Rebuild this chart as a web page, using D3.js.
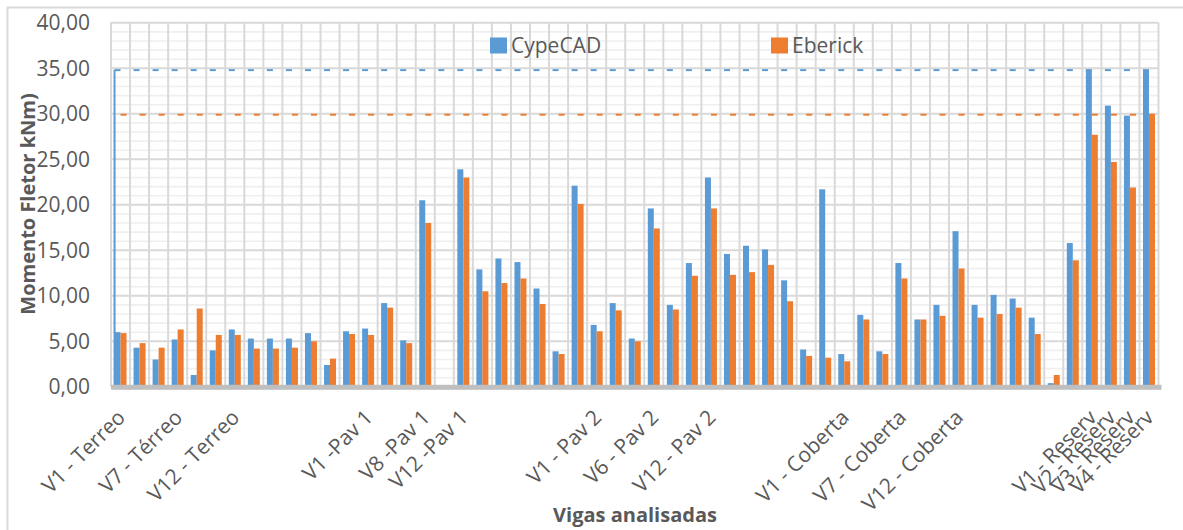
<!DOCTYPE html>
<html>
<head>
<meta charset="utf-8">
<script src="https://cdn.jsdelivr.net/npm/d3@7"></script>
<style>
  html, body { margin: 0; padding: 0; background: #fff; }
  svg { display: block; }
  text { font-family: "Open Sans", "Liberation Sans", sans-serif; fill: #595959; }
</style>
</head>
<body>
<svg id="chart" width="1183" height="530"></svg>
<script>
// ---- data ----
const categories = [
  "V1 - Terreo", "", "", "V7 - Térreo", "", "", "V12 - Terreo", "", "", "", "", "", "", "V1 -Pav 1",
  "", "", "V8 -Pav 1", "", "V12 -Pav 1", "", "", "", "", "", "", "V1 - Pav 2", "", "",
  "V6 - Pav 2", "", "", "V12 - Pav 2", "", "", "", "", "", "", "V1 - Coberta", "", "",
  "V7 - Coberta", "", "", "V12 - Coberta", "", "", "", "", "", "", "V1 - Reserv", "V2 - Reserv",
  "V3 - Reserv", "V4 - Reserv"
];
const cypecad = [
  6.0, 4.3, 3.0, 5.2, 1.3, 4.0, 6.3, 5.3, 5.3, 5.3, 5.9, 2.4, 6.1, 6.4, 9.2, 5.1, 20.5, 0,
  23.9, 12.9, 14.1, 13.7, 10.8, 3.9, 22.1, 6.8, 9.2, 5.3, 19.6, 9.0, 13.6, 23.0, 14.6, 15.5,
  15.1, 11.7, 4.1, 21.7, 3.6, 7.9, 3.9, 13.6, 7.4, 9.0, 17.1, 9.0, 10.1, 9.7, 7.6, 0.4, 15.8,
  34.8, 30.9, 29.8, 34.8
];
const eberick = [
  5.9, 4.8, 4.3, 6.3, 8.6, 5.7, 5.7, 4.2, 4.2, 4.3, 5.0, 3.1, 5.8, 5.7, 8.7, 4.8, 18.0, 0,
  23.0, 10.5, 11.4, 11.9, 9.1, 3.6, 20.1, 6.1, 8.4, 5.0, 17.4, 8.5, 12.2, 19.6, 12.3, 12.6,
  13.4, 9.4, 3.4, 3.2, 2.8, 7.4, 3.6, 11.9, 7.4, 7.8, 13.0, 7.6, 8.0, 8.7, 5.8, 1.3, 13.9,
  27.7, 24.7, 21.9, 29.9
];
const seriesNames = ["CypeCAD", "Eberick"];
const yTicks = [0, 5, 10, 15, 20, 25, 30, 35, 40];
const yTitle = "Momento Fletor kNm)";
const xTitle = "Vigas analisadas";

// ---- styles ----
const colors = ["#5B9BD5", "#ED7D31"];
const svg = d3.select("#chart");

const plot = { left: 111, right: 1158.5, top: 22.8, bottom: 386.8 };
const idx = d3.range(categories.length);
const x = d3.scaleBand().domain(idx).range([plot.left, plot.right]).padding(0);
const y = d3.scaleLinear().domain([0, 40]).range([plot.bottom, plot.top]);
const barW = 6;

const locale = d3.formatLocale({ decimal: ",", thousands: ".", grouping: [3], currency: ["R$", ""] });
const fmt = locale.format(".2f");

// chart frame
svg.append("rect").attr("x", 7.5).attr("y", 7.5).attr("width", 1300).attr("height", 700)
  .attr("fill", "none").attr("stroke", "#d9d9d9").attr("stroke-width", 2);

// minor horizontal gridlines
const minor = d3.range(1, 40).filter(v => v % 5 !== 0);
svg.append("g").selectAll("line").data(minor).join("line")
  .attr("x1", plot.left).attr("x2", plot.right)
  .attr("y1", d => y(d)).attr("y2", d => y(d))
  .attr("stroke", "#efefef").attr("stroke-width", 1.6);

// major horizontal gridlines
svg.append("g").selectAll("line").data(yTicks.filter(v => v > 0)).join("line")
  .attr("x1", plot.left).attr("x2", plot.right)
  .attr("y1", d => y(d)).attr("y2", d => y(d))
  .attr("stroke", "#d9d9d9").attr("stroke-width", 2);

// vertical gridlines
const vlines = idx.map(i => x(i)).concat([plot.right]);
svg.append("g").selectAll("line").data(vlines).join("line")
  .attr("x1", d => d).attr("x2", d => d)
  .attr("y1", plot.top).attr("y2", plot.bottom)
  .attr("stroke", "#d9d9d9").attr("stroke-width", 2);

// max reference dashes
const maxC = d3.max(cypecad), maxE = d3.max(eberick);
const cx = i => x(i) + x.bandwidth() / 2;
svg.append("g").selectAll("line").data(idx).join("line")
  .attr("x1", i => cx(i) - barW).attr("x2", i => cx(i))
  .attr("y1", y(maxC)).attr("y2", y(maxC))
  .attr("stroke", colors[0]).attr("stroke-width", 2);
svg.append("g").selectAll("line").data(idx).join("line")
  .attr("x1", i => cx(i)).attr("x2", i => cx(i) + barW)
  .attr("y1", y(maxE)).attr("y2", y(maxE))
  .attr("stroke", colors[1]).attr("stroke-width", 2);
svg.append("line")
  .attr("x1", cx(0) - barW + 0.5).attr("x2", cx(0) - barW + 0.5)
  .attr("y1", y(maxE)).attr("y2", y(0))
  .attr("stroke", colors[1]).attr("stroke-width", 1).attr("opacity", 0.25);
svg.append("line")
  .attr("x1", cx(0) - barW).attr("x2", cx(0) - barW)
  .attr("y1", y(maxC)).attr("y2", y(0))
  .attr("stroke", colors[0]).attr("stroke-width", 2);

// bars
svg.append("g").selectAll("rect").data(idx).join("rect")
  .attr("x", i => cx(i) - barW).attr("width", barW)
  .attr("y", i => y(cypecad[i])).attr("height", i => y(0) - y(cypecad[i]))
  .attr("fill", colors[0]);
svg.append("g").selectAll("rect").data(idx).join("rect")
  .attr("x", i => cx(i)).attr("width", barW)
  .attr("y", i => y(eberick[i])).attr("height", i => y(0) - y(eberick[i]))
  .attr("fill", colors[1]);

// x axis bar
svg.append("rect").attr("x", plot.left).attr("y", y(0) - 2)
  .attr("width", plot.right - plot.left + 3).attr("height", 5).attr("fill", "#bfbfbf");

// y axis
const yAxis = d3.axisLeft(y).tickValues(yTicks).tickSize(0).tickPadding(plot.left - 90).tickFormat(fmt);
const gy = svg.append("g").attr("transform", `translate(${plot.left},0)`).call(yAxis);
gy.select(".domain").remove();
gy.selectAll("text").style("font-size", "21px").style("font-family", '"Open Sans", sans-serif').attr("fill", "#595959");

// x axis labels
const xAxis = d3.axisBottom(x).tickSize(0).tickFormat(i => categories[i]);
const gx = svg.append("g").attr("transform", `translate(0,${plot.bottom})`).call(xAxis);
gx.select(".domain").remove();
gx.selectAll("text")
  .attr("x", 0).attr("y", 0).attr("dy", 0)
  .attr("text-anchor", "end")
  .attr("transform", "translate(6,32) rotate(-45)")
  .style("font-size", "21px").style("font-family", '"Open Sans", sans-serif').attr("fill", "#595959");

// legend
const legendX = [490, 771];
seriesNames.forEach((name, k) => {
  svg.append("rect").attr("x", legendX[k]).attr("y", 37.5).attr("width", 17).attr("height", 16).attr("fill", colors[k]);
  svg.append("text").attr("x", legendX[k] + 21).attr("y", 53).text(name)
    .style("font-size", "21px");
});

// titles
svg.append("text").attr("transform", "translate(35,204) rotate(-90)")
  .attr("text-anchor", "middle").style("font-size", "20px").style("font-weight", "bold").text(yTitle);
svg.append("text").attr("x", 635).attr("y", 522)
  .attr("text-anchor", "middle").style("font-size", "20px").style("font-weight", "bold").text(xTitle);
</script>
</body>
</html>
